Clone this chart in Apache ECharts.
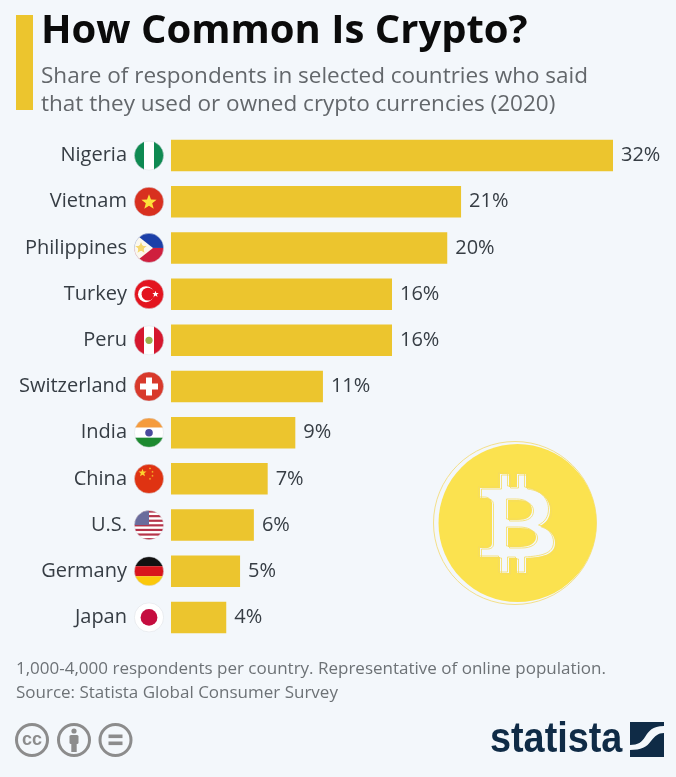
<!DOCTYPE html>
<html>
<head>
<meta charset="utf-8">
<style>
  html, body { margin: 0; padding: 0; background: #f3f7fb; }
  #chart { width: 676px; height: 777px; }
</style>
<script src="https://cdn.jsdelivr.net/npm/echarts@6/dist/echarts.min.js"></script>
</head>
<body>
<div id="chart"></div>
<script>
const countries = ["Nigeria", "Vietnam", "Philippines", "Turkey", "Peru", "Switzerland", "India", "China", "U.S.", "Germany", "Japan"];
const shares = [32, 21, 20, 16, 16, 11, 9, 7, 6, 5, 4];
const flagCodes = ["ng", "vn", "ph", "tr", "pe", "ch", "in", "cn", "us", "de", "jp"];

const titleText = "How Common Is Crypto?";
const subtitleText = "Share of respondents in selected countries who said\nthat they used or owned crypto currencies (2020)";
const noteText = "1,000-4,000 respondents per country. Representative of online population.\nSource: Statista Global Consumer Survey";

const YELLOW = "#ecc52e";
const NAVY = "#0f2b46";
const GREY = "#8c8c8c";
const PAPER = "#f3f7fb";

const svgUrl = (w, h, body) => "data:image/svg+xml;charset=utf-8," + encodeURIComponent(
  `<svg xmlns="http://www.w3.org/2000/svg" width="${w * 4}" height="${h * 4}" viewBox="0 0 ${w} ${h}">${body}</svg>`
);

// flag art, 30x30 box, clipped to a circle below
const star = (x, y, r, c) => {
  let p = [];
  for (let i = 0; i < 10; i++) {
    let a = -Math.PI / 2 + i * Math.PI / 5, q = i % 2 ? r * 0.42 : r;
    p.push((x + q * Math.cos(a)).toFixed(1) + "," + (y + q * Math.sin(a)).toFixed(1));
  }
  return `<polygon points="${p.join(" ")}" fill="${c}"/>`;
};
const usStripes = [0, 1, 2, 3, 4, 5, 6].map(i => `<rect y="${i * 4.6 + 0.4}" width="30" height="2.2" fill="#b5344a"/>`).join("");
const flagArt = {
  ng: `<rect width="30" height="30" fill="#fff"/><rect width="10" height="30" fill="#0f8a52"/><rect x="20" width="10" height="30" fill="#0f8a52"/>`,
  vn: `<rect width="30" height="30" fill="#d8301f"/>` + star(15, 15.5, 8, "#fde23a"),
  ph: `<rect width="30" height="15" fill="#1b3fa8"/><rect y="15" width="30" height="15" fill="#cf1f3e"/><polygon points="0,0 19,15 0,30" fill="#fbf8ee"/>` + star(7, 15, 6, "#f5d76e") + `<circle cx="7" cy="15" r="3" fill="#f5d76e"/>`,
  tr: `<rect width="30" height="30" fill="#e3141f"/><circle cx="12" cy="15" r="8" fill="#fff"/><circle cx="14" cy="15" r="6.4" fill="#e3141f"/>` + star(21.5, 15, 3.4, "#fff"),
  pe: `<rect width="30" height="30" fill="#fff"/><rect width="10" height="30" fill="#d5172e"/><rect x="20" width="10" height="30" fill="#d5172e"/><circle cx="15" cy="15" r="3.6" fill="#9bb04b"/>`,
  ch: `<rect width="30" height="30" fill="#d8392b"/><rect x="12" y="6" width="6" height="18" fill="#fff"/><rect x="6" y="12" width="18" height="6" fill="#fff"/>`,
  in: `<rect width="30" height="10" fill="#f59b3c"/><rect y="10" width="30" height="10" fill="#fff"/><rect y="20" width="30" height="10" fill="#1d8a30"/><circle cx="15" cy="15" r="3.8" fill="#4a4a9c"/>`,
  cn: `<rect width="30" height="30" fill="#df3312"/>` + star(8.5, 9, 4.2, "#fbd32f") + star(16, 4.5, 1.3, "#fbd32f") + star(18.5, 8, 1.3, "#fbd32f") + star(18.5, 12, 1.3, "#fbd32f") + star(16, 15, 1.3, "#fbd32f"),
  us: `<rect width="30" height="30" fill="#fff"/>${usStripes}<rect width="15" height="15" fill="#6a6c9c"/>`,
  de: `<rect width="30" height="10" fill="#111"/><rect y="10" width="30" height="10" fill="#d8141c"/><rect y="20" width="30" height="10" fill="#fbc80a"/>`,
  jp: `<rect width="30" height="30" fill="#fff"/><circle cx="15" cy="15" r="8.4" fill="#c50d3f"/>`
};
const flagUrl = code => svgUrl(30, 30,
  `<defs><clipPath id="c"><circle cx="15" cy="15" r="14.6"/></clipPath></defs><g clip-path="url(#c)">${flagArt[code]}</g><circle cx="15" cy="15" r="14.6" fill="none" stroke="#d9dde2" stroke-width="0.5"/>`
);

const bPath = "M60 58L80 58L80 44L89 44L89 57L97 57L97 44L106 44L106 58C122 60 130 70 130 80C130 88 126 93 120 96C130 99 135 106 135 113C135 125 122 127 106 128L106 143L97 143L97 128L89 128L89 143L80 143L80 127L60 127L60 118L66 118C70 118 72 116 72 113L72 74C72 70 70 68 66 68L60 68ZM88 70L88 90L98 90C106 90 112 87 112 80C112 73 106 70 98 70ZM88 98L88 117L100 117C110 117 116 113 116 107C116 101 110 98 100 98Z";
const coinUrl = svgUrl(190, 190,
  `<circle cx="95" cy="93" r="81.5" fill="${PAPER}" stroke="#f3e08a" stroke-width="1"/>
   <circle cx="97.5" cy="93" r="79" fill="#fbe24f"/>
   <path fill-rule="evenodd" fill="${PAPER}" d="${bPath}"/>
   <path fill="none" stroke="#f5dc62" stroke-width="0.8" transform="translate(-1.5,-1)" d="${bPath}"/>
   <path fill="none" stroke="#f5dc62" stroke-width="0.8" transform="translate(1.5,1)" d="${bPath}"/>`
);
const statistaMarkUrl = svgUrl(34, 35,
  `<path fill="${NAVY}" d="M0 0H34V4C22 4 19 9 15 15C12 20 8 23 0 23Z"/><path fill="${NAVY}" d="M34 11V35H0V28C11 28 17 25 21 19C25 14 28 11 34 11Z"/>`
);

let chart = echarts.init(document.getElementById("chart"), null, { renderer: "canvas" });

let option = {
  backgroundColor: PAPER,
  animation: false,
  textStyle: { fontFamily: "Open Sans" },
  title: [
    {
      text: titleText, left: 36, top: 7,
      textStyle: { fontFamily: "Open Sans", fontSize: 40, fontWeight: "bold", color: "#0b0b0b" }
    },
    {
      text: subtitleText, left: 36, top: 58,
      textStyle: { fontFamily: "Open Sans", fontSize: 22.5, fontWeight: "normal", color: "#63676b", lineHeight: 28 }
    },
    {
      text: noteText, left: 11, top: 652,
      textStyle: { fontFamily: "Open Sans", fontSize: 17, fontWeight: "normal", color: "#6d7276", lineHeight: 24 }
    }
  ],
  grid: { left: 171, top: 132.5, width: 442, height: 508, containLabel: false },
  xAxis: { type: "value", min: 0, max: 32, show: false },
  yAxis: {
    type: "category",
    data: countries,
    inverse: true,
    axisLine: { show: false },
    axisTick: { show: false },
    axisLabel: { margin: 44, fontSize: 20, fontFamily: "Open Sans", color: "#363d44", padding: [6, 0, 0, 0] }
  },
  series: [
    {
      type: "bar",
      data: shares,
      barWidth: 31.5,
      itemStyle: { color: YELLOW },
      label: {
        show: true, position: "right", distance: 8, padding: [5, 0, 0, 0],
        formatter: "{c}%", fontFamily: "Open Sans", fontSize: 20, color: "#363d44"
      }
    },
    {
      type: "custom",
      data: flagCodes.map((code, i) => [0, countries[i]]),
      encode: { x: 0, y: 1 },
      silent: true,
      renderItem: function (params, api) {
        let p = api.coord([0, api.value(1)]);
        return {
          type: "image",
          style: { image: flagUrl(flagCodes[params.dataIndex]), x: p[0] - 37, y: p[1] - 15, width: 30, height: 30 }
        };
      }
    }
  ],
  graphic: [
    // accent bar beside the heading
    { type: "rect", shape: { x: 16, y: 15, width: 17, height: 95 }, style: { fill: YELLOW } },
    // coin
    { type: "image", silent: true, style: { image: coinUrl, x: 420, y: 430, width: 190, height: 190 } },
    // licence icons
    { type: "circle", shape: { cx: 32, cy: 740, r: 15.5 }, style: { fill: "none", stroke: GREY, lineWidth: 3 } },
    { type: "text", x: 32, y: 740, style: { text: "cc", fill: GREY, font: "bold 18px 'Liberation Sans'", align: "center", verticalAlign: "middle" } },
    { type: "circle", shape: { cx: 74, cy: 740, r: 15.5 }, style: { fill: "none", stroke: GREY, lineWidth: 3 } },
    { type: "circle", shape: { cx: 74, cy: 731, r: 2.6 }, style: { fill: GREY } },
    { type: "rect", shape: { x: 69.5, y: 735, width: 9, height: 9, r: 1.5 }, style: { fill: GREY } },
    { type: "rect", shape: { x: 71.3, y: 743, width: 5.4, height: 9 }, style: { fill: GREY } },
    { type: "circle", shape: { cx: 115.5, cy: 740, r: 15.5 }, style: { fill: "none", stroke: GREY, lineWidth: 3 } },
    { type: "rect", shape: { x: 108.5, y: 734.5, width: 14, height: 3.6 }, style: { fill: GREY } },
    { type: "rect", shape: { x: 108.5, y: 741.5, width: 14, height: 3.6 }, style: { fill: GREY } },
    // statista logo
    { type: "text", x: 490, y: 740, scaleX: 0.9, style: { text: "statista", fill: NAVY, font: "bold 42px 'Liberation Sans'", align: "left", verticalAlign: "middle" } },
    { type: "image", silent: true, style: { image: statistaMarkUrl, x: 630, y: 722, width: 34, height: 35 } }
  ]
};

chart.setOption(option);
</script>
</body>
</html>
